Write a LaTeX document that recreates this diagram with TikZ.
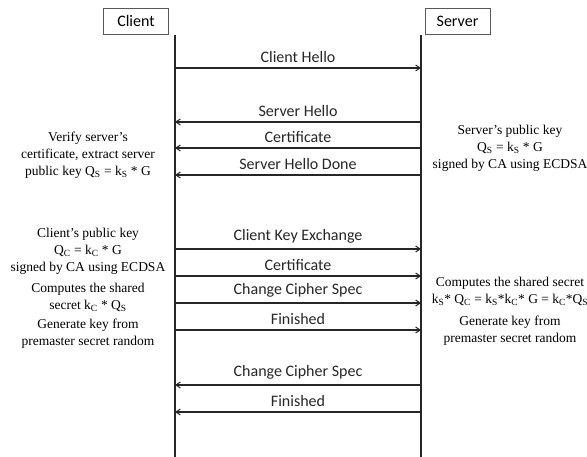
\documentclass[tikz,border=0pt]{standalone}
\usepackage{fontspec}
\setmainfont{Liberation Serif}
\newfontfamily\msgfont{Carlito}
\usetikzlibrary{arrows.meta}
\begin{document}
\begin{tikzpicture}[x=1pt,y=-1pt,
  actor/.style={draw=black!65,line width=0.8pt,fill=white,minimum width=65pt,minimum height=26pt,inner sep=0pt,font=\msgfont\fontsize{16}{18}\selectfont},
  life/.style={line width=1.3pt,black!85},
  msg/.style={line width=1.3pt,black!85,-{Straight Barb[length=4.5pt,width=6pt,line width=1pt]}},
  mlabel/.style={font=\msgfont\fontsize{16}{18}\selectfont,inner sep=0pt},
  note/.style={font=\fontsize{13.5}{17}\selectfont,align=center,inner sep=0pt}]
\useasboundingbox (0,0) rectangle (587,457);
% actors
\node[actor] (client) at (136,21) {Client};
\node[actor] (server) at (457.5,21) {Server};
% lifelines
\coordinate (ct) at (175,35); \coordinate (cb) at (175,457);
\coordinate (st) at (421,35); \coordinate (sb) at (421,457);
\draw[life] (ct) -- (cb);
\draw[life] (st) -- (sb);
% message points
\foreach \n/\y in {1/68,2/122,3/148,4/175,5/249,6/276,7/303,8/330,9/385,10/412}{
  \coordinate (c\n) at (175,\y);
  \coordinate (s\n) at (421,\y);
}
\draw[msg] (c1) -- node[mlabel,above=5pt] (l1) {Client Hello} (s1);
\draw[msg] (s2) -- node[mlabel,above=5pt] (l2) {Server Hello} (c2);
\draw[msg] (s3) -- node[mlabel,above=5pt] (l3) {Certificate} (c3);
\draw[msg] (s4) -- node[mlabel,above=5pt] (l4) {Server Hello Done} (c4);
\draw[msg] (c5) -- node[mlabel,above=5pt] (l5) {Client Key Exchange} (s5);
\draw[msg] (c6) -- node[mlabel,above=5pt] (l6) {Certificate} (s6);
\draw[msg] (c7) -- node[mlabel,above=5pt] (l7) {Change Cipher Spec} (s7);
\draw[msg] (c8) -- node[mlabel,above=5pt] (l8) {Finished} (s8);
\draw[msg] (s9) -- node[mlabel,above=5pt] (l9) {Change Cipher Spec} (c9);
\draw[msg] (s10) -- node[mlabel,above=5pt] (l10) {Finished} (c10);
% notes
\node[note] (n1) at (88,155) {Verify server’s\\certificate, extract server\\public key Q\textsubscript{S} = k\textsubscript{S} * G};
\node[note] (n2) at (510,148) {Server’s public key\\Q\textsubscript{S} = k\textsubscript{S} * G\\signed by CA using ECDSA};
\node[note] (n3) at (88,251) {Client’s public key\\Q\textsubscript{C} = k\textsubscript{C} * G\\signed by CA using ECDSA};
\node[note] (n4) at (88,297) {Computes the shared\\secret k\textsubscript{C} * Q\textsubscript{S}};
\node[note] (n5) at (88,334) {Generate key from\\premaster secret random};
\node[note] (n6) at (510,291) {Computes the shared secret\\k\textsubscript{S}* Q\textsubscript{C} = k\textsubscript{S}*k\textsubscript{C}* G = k\textsubscript{C}*Q\textsubscript{S}};
\node[note] (n7) at (510,331) {Generate key from\\premaster secret random};
\end{tikzpicture}
\end{document}
